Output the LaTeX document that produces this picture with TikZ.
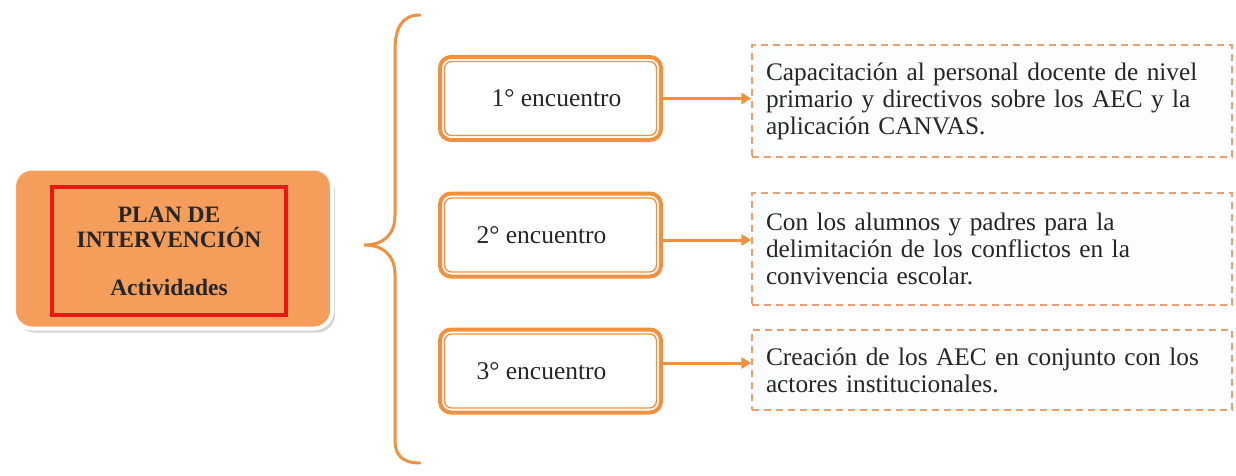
\documentclass[tikz,border=0pt]{standalone}
\usepackage{fontspec}
\setmainfont{Liberation Serif}
\usetikzlibrary{arrows.meta,shadows,calc}
\definecolor{mainorange}{RGB}{245,158,91}
\definecolor{boxorange}{RGB}{238,146,66}
\definecolor{redline}{RGB}{235,22,22}
\definecolor{dashorange}{RGB}{232,160,112}
\definecolor{lightfill}{RGB}{252,253,255}
\tikzset{
  mainbox/.style={draw=white, line width=4pt, fill=mainorange, rounded corners=18pt,
    minimum width=318pt, minimum height=160pt, drop shadow={shadow xshift=3pt, shadow yshift=-4pt, opacity=0.35, fill=gray}},
  redbox/.style={draw=redline, line width=4.5pt, fill=mainorange, minimum width=234pt, minimum height=128pt,
    align=center, font=\bfseries\fontsize{23.5}{25}\selectfont, text=black!85},
  encbox/.style={draw=boxorange, line width=4pt, fill=white, rounded corners=11pt,
    minimum width=221pt, minimum height=83pt, font=\fontsize{25.5}{28}\selectfont, text=black!85},
  innerline/.style={draw=boxorange, line width=1.3pt, rounded corners=7pt},
  descbox/.style={draw=dashorange, line width=1.3pt, dash pattern=on 7pt off 5pt, fill=lightfill,
    text width=452pt, inner xsep=14pt, inner ysep=0pt, align=left,
    font=\fontsize{25.3}{27}\selectfont, text=black!85},
  conn/.style={draw=boxorange, line width=3pt, -{Triangle[length=10pt,width=11pt]}},
  bracepath/.style={draw=boxorange, line width=3pt, line cap=round}
}
\begin{document}
\begin{tikzpicture}[x=1pt,y=-1pt]
\useasboundingbox (0,0) rectangle (1236,475);
% main box
\node[mainbox] (main) at (173,248.5) {};
\node[redbox] (plan) at (169,251) {PLAN DE\\INTERVENCIÓN\\[23pt]Actividades};
% brace
\draw[bracepath] (420,15) .. controls (402,15) and (395,28) .. (395,50) -- (395,215)
  .. controls (395,236) and (382,245) .. (364,245)
  .. controls (382,245) and (395,254) .. (395,275) -- (395,440)
  .. controls (395,455) and (402,463) .. (420,463);
% encuentro boxes
\node[encbox] (b1) at (550.5,98.5) {\hspace*{12pt}1° encuentro};
\node[encbox] (b2) at (550.5,235) {2° encuentro\hspace*{18pt}};
\node[encbox] (b3) at (550.5,371) {3° encuentro\hspace*{18pt}};
\foreach \b in {b1,b2,b3}{
  \draw[innerline] ($(\b.north west)+(6.5,6.5)$) rectangle ($(\b.south east)+(-6.5,-6.5)$);
}
% description boxes
\node[descbox, minimum height=112pt] (d1) at (992,101) {Capacitación al personal docente de nivel\\primario y directivos sobre los AEC y la\\aplicación CANVAS.};
\node[descbox, minimum height=112pt] (d2) at (992,249) {Con los alumnos y padres para la\\delimitación de los conflictos en la\\convivencia escolar.};
\node[descbox, minimum height=80pt] (d3) at (992,370) {Creación de los AEC en conjunto con los\\actores institucionales.};
% connectors
\draw[conn] (b1.east) -- (d1.west |- b1.east);
\draw[conn] ($(b2.east)+(0,5)$) -- ($(d2.west |- b2.east)+(0,5)$);
\draw[conn] ($(b3.east)+(0,-8)$) -- ($(d3.west |- b3.east)+(0,-8)$);
\end{tikzpicture}
\end{document}
